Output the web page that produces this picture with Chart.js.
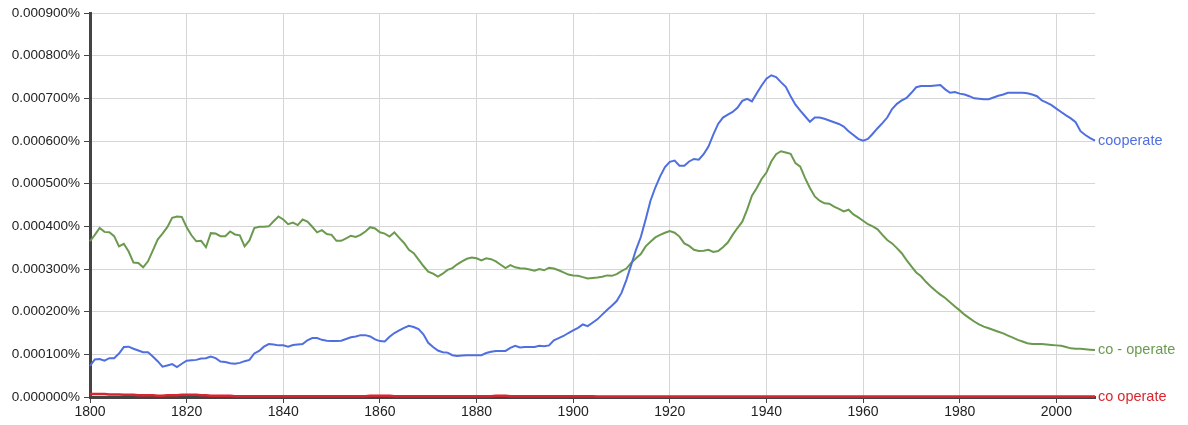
<!DOCTYPE html>
<html>
<head>
<title>cooperate / co - operate / co operate</title>
<style>
    body { margin: 0; background: #fff; }
</style>
</head>
<body>

<canvas id="myChart" width="1188" height="425"></canvas>

<script src="https://cdn.jsdelivr.net/npm/chart.js"></script>

<script>

    // values in millionths of a percent (365 -> 0.000365%)
    const firstYear = 1800;
    const lastYear = 2008;
    const xTicks = [1800, 1820, 1840, 1860, 1880, 1900, 1920, 1940, 1960, 1980, 2000];
    const yTicks = [0, 100, 200, 300, 400, 500, 600, 700, 800, 900];

    const cooperate = [
        73, 88, 89, 85, 91, 91, 102, 117, 118, 113,
        109, 105, 105, 95, 84, 71, 74, 77, 70, 78,
        85, 86, 87, 90, 91, 95, 91, 83, 82, 79,
        78, 80, 84, 87, 102, 108, 118, 124, 123, 121,
        121, 118, 122, 123, 124, 133, 138, 138, 134, 132,
        131, 131, 132, 136, 140, 142, 145, 145, 142, 135,
        131, 130, 141, 150, 156, 162, 167, 164, 159, 147,
        127, 117, 109, 105, 104, 98, 96, 97, 98, 98,
        98, 98, 103, 106, 108, 108, 108, 115, 120, 116,
        117, 117, 117, 120, 119, 121, 133, 138, 143, 150,
        156, 162, 170, 166, 174, 182, 193, 204, 214, 225,
        244, 274, 309, 345, 375, 416, 460, 491, 517, 539,
        551, 554, 542, 542, 552, 558, 556, 569, 587, 615,
        640, 655, 662, 668, 678, 694, 699, 693, 712, 730,
        746, 754, 750, 738, 727, 705, 685, 671, 658, 645,
        655, 655, 652, 648, 644, 640, 634, 623, 614, 605,
        601, 605, 617, 630, 642, 655, 675, 687, 695, 701,
        713, 726, 729, 729, 729, 730, 731, 721, 713, 715,
        711, 709, 705, 700, 699, 698, 698, 702, 706, 709,
        713, 713, 713, 713, 712, 709, 705, 695, 690, 684,
        676, 668, 660, 653, 644, 623, 614, 607, 601
    ];

    const coDashOperate = [
        365, 380, 396, 387, 386, 377, 353, 359, 341, 315,
        314, 304, 318, 343, 369, 383, 398, 420, 423, 422,
        398, 379, 365, 366, 351, 384, 383, 377, 377, 388,
        381, 379, 353, 367, 396, 399, 399, 400, 412, 423,
        416, 405, 409, 403, 416, 411, 399, 386, 391, 382,
        380, 366, 366, 372, 378, 375, 380, 388, 398, 395,
        386, 383, 376, 386, 373, 361, 345, 337, 322, 307,
        294, 289, 282, 289, 298, 302, 311, 318, 324, 327,
        325, 320, 325, 323, 318, 310, 302, 309, 304, 302,
        301, 299, 296, 300, 297, 303, 301, 297, 292, 287,
        285, 284, 281, 278, 279, 280, 282, 285, 284, 288,
        295, 301, 314, 325, 335, 353, 364, 374, 380, 385,
        389, 385, 376, 360, 354, 345, 342, 343, 345, 340,
        342, 351, 362, 380, 396, 411, 439, 472, 490, 511,
        526, 552, 569, 576, 573, 570, 548, 540, 513, 490,
        470, 460, 454, 453, 446, 441, 435, 439, 428, 421,
        413, 405, 400, 393, 380, 368, 360, 349, 337, 321,
        306, 292, 283, 270, 259, 249, 240, 232, 222, 212,
        203, 193, 185, 177, 170, 165, 161, 157, 153, 149,
        144, 139, 134, 130, 126, 124, 124, 124, 123, 122,
        121, 120, 117, 114, 113, 113, 112, 111, 110
    ];

    const coOperate = [
        7, 7, 7, 7, 6, 6, 6, 5, 5, 5,
        4, 4, 4, 4, 3, 3, 4, 4, 4, 5,
        5, 5, 5, 4, 4, 3, 3, 3, 3, 3,
        2, 2, 2, 2, 2, 2, 2, 2, 2, 2,
        2, 2, 2, 2, 2, 2, 2, 2, 2, 2,
        2, 2, 2, 2, 2, 2, 2, 2, 3, 3,
        3, 3, 3, 2, 2, 2, 2, 2, 2, 2,
        2, 2, 2, 2, 2, 2, 2, 2, 2, 2,
        2, 2, 2, 2, 3, 3, 3, 2, 2, 2,
        2, 2, 2, 2, 2, 2, 2, 2, 2, 2,
        2, 2, 2, 2, 2, 1, 1, 1, 1, 1,
        1, 1, 1, 1, 1, 1, 1, 1, 1, 1,
        1, 1, 1, 1, 1, 1, 1, 1, 1, 1,
        1, 1, 1, 1, 1, 1, 1, 1, 1, 1,
        1, 1, 1, 1, 1, 1, 1, 1, 1, 1,
        1, 1, 1, 1, 1, 1, 1, 1, 1, 1,
        1, 1, 1, 1, 1, 1, 1, 1, 1, 1,
        1, 1, 1, 1, 1, 1, 1, 1, 1, 1,
        1, 1, 1, 1, 1, 1, 1, 1, 1, 1,
        1, 1, 1, 1, 1, 1, 1, 1, 1, 1,
        1, 1, 1, 1, 1, 1, 1, 1, 1
    ];

    const seriesNames = ['cooperate', 'co - operate', 'co operate'];
    const seriesColors = ['#4f6fe0', '#6b9a4f', '#d9262e'];

    function toPoints(arr) {
        return arr.map((v, i) => ({ x: firstYear + i, y: v }));
    }

    // writes each series name right after the end of its line
    const endLabels = {
        id: 'endLabels',
        afterDatasetsDraw(chart) {
            const ctx = chart.ctx;
            ctx.save();
            ctx.font = '14.5px "Liberation Sans", Arial, sans-serif';
            ctx.textAlign = 'left';
            ctx.textBaseline = 'middle';
            chart.data.datasets.forEach((ds, i) => {
                const meta = chart.getDatasetMeta(i);
                const pt = meta.data[meta.data.length - 1];
                ctx.fillStyle = ds.borderColor;
                ctx.fillText(ds.label, pt.x + 3, pt.y);
            });
            ctx.restore();
        }
    };

    const data = {
        datasets: [
            {
                label: seriesNames[0],
                data: toPoints(cooperate),
                borderColor: seriesColors[0],
                borderWidth: 2
            },
            {
                label: seriesNames[1],
                data: toPoints(coDashOperate),
                borderColor: seriesColors[1],
                borderWidth: 2
            },
            {
                label: seriesNames[2],
                data: toPoints(coOperate),
                borderColor: seriesColors[2],
                borderWidth: 2.5
            }
        ]
    };

    const config = {
        type: 'line',
        data: data,
        options: {
            responsive: false,
            animation: false,
            layout: {
                padding: { top: 13, right: 93, left: 0, bottom: 0 }
            },
            elements: {
                point: { radius: 0 },
                line: { tension: 0 }
            },
            datasets: {
                line: { clip: 6 }
            },
            scales: {
                x: {
                    type: 'linear',
                    min: firstYear,
                    max: lastYear,
                    afterBuildTicks: (scale) => {
                        scale.ticks = xTicks.map(v => ({ value: v }));
                    },
                    afterFit: (scale) => { scale.height = 28; },
                    ticks: {
                        maxRotation: 0,
                        autoSkip: false,
                        padding: 1,
                        color: '#222',
                        font: { family: '"Liberation Sans", Arial, sans-serif', size: 14 },
                        callback: (v) => String(v)
                    },
                    grid: {
                        color: '#d6d6d6',
                        lineWidth: 1,
                        tickLength: 6,
                        tickColor: '#444'
                    },
                    border: { color: '#444', width: 3 }
                },
                y: {
                    min: 0,
                    max: 900,
                    afterBuildTicks: (scale) => {
                        scale.ticks = yTicks.map(v => ({ value: v }));
                    },
                    afterFit: (scale) => { scale.width = 90; },
                    ticks: {
                        padding: 4,
                        color: '#222',
                        font: { family: '"Liberation Sans", Arial, sans-serif', size: 13.5 },
                        callback: (v) => (v / 1e6).toFixed(6) + '%'
                    },
                    grid: {
                        color: '#d6d6d6',
                        lineWidth: 1,
                        tickLength: 6,
                        tickColor: '#444'
                    },
                    border: { color: '#444', width: 3 }
                }
            },
            plugins: {
                legend: { display: false },
                tooltip: { enabled: false }
            }
        },
        plugins: [endLabels]
    };

    const xChart = new Chart(document.getElementById('myChart'), config);

</script>

</body>
</html>
